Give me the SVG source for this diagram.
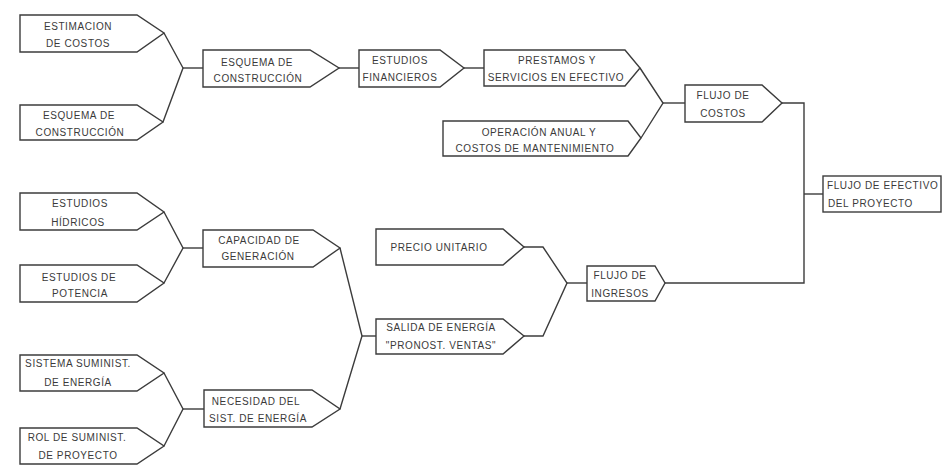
<svg xmlns="http://www.w3.org/2000/svg" width="944" height="468" viewBox="0 0 944 468">
  <style>
    .box { fill: #ffffff; stroke: #3c3c3c; stroke-width: 1.4; stroke-linejoin: miter; }
    .wire { fill: none; stroke: #3c3c3c; stroke-width: 1.4; stroke-linejoin: miter; }
    .lbl { font-family: "Liberation Sans", Arial, sans-serif; font-size: 10px; letter-spacing: 0.6px; fill: #3a3a3a; text-anchor: middle; }
    .lft { text-anchor: start; }
  </style>
  <rect x="0" y="0" width="944" height="468" fill="#ffffff"/>

  <!-- connectors -->
  <g id="connectors">
    <polyline class="wire" points="164,33 183,68 163,122"/>
    <line class="wire" x1="183" y1="68" x2="203" y2="68"/>
    <line class="wire" x1="339" y1="68" x2="359" y2="68"/>
    <line class="wire" x1="464" y1="68" x2="484" y2="68"/>
    <polyline class="wire" points="640,68 663,103 641,138"/>
    <line class="wire" x1="663" y1="103" x2="685" y2="103"/>
    <polyline class="wire" points="782,103 804,103 804,283 665,283"/>
    <line class="wire" x1="804" y1="194" x2="823" y2="194"/>

    <polyline class="wire" points="164,212 183,248 164,283"/>
    <line class="wire" x1="183" y1="248" x2="203" y2="248"/>
    <polyline class="wire" points="164,373 183,409 164,446"/>
    <line class="wire" x1="183" y1="409" x2="204" y2="409"/>
    <polyline class="wire" points="340,248 362,336 340,409"/>
    <line class="wire" x1="362" y1="336" x2="376" y2="336"/>
    <polyline class="wire" points="524,247 543,247 567,283 543,336 524,336"/>
    <line class="wire" x1="567" y1="283" x2="587" y2="283"/>
  </g>

  <g id="estimacion-costos">
    <polygon class="box" points="20,15 137,15 164,33 137,52 20,52"/>
    <text class="lbl" x="78" y="29.6">ESTIMACION</text>
    <text class="lbl" x="78" y="46.6">DE COSTOS</text>
  </g>
  <g id="esquema-construccion-base">
    <polygon class="box" points="20,105 137,105 163,122 137,140 20,140"/>
    <text class="lbl" x="79" y="118.6">ESQUEMA DE</text>
    <text class="lbl" x="80" y="135.6">CONSTRUCCIÓN</text>
  </g>
  <g id="esquema-construccion">
    <polygon class="box" points="203,50 310,50 339,68 310,87 203,87"/>
    <text class="lbl" x="257" y="65.6">ESQUEMA DE</text>
    <text class="lbl" x="258" y="81.6">CONSTRUCCIÓN</text>
  </g>
  <g id="estudios-financieros">
    <polygon class="box" points="359,50 440,50 464,68 440,87 359,87"/>
    <text class="lbl" x="400" y="63.6">ESTUDIOS</text>
    <text class="lbl" x="400" y="80.6">FINANCIEROS</text>
  </g>
  <g id="prestamos">
    <polygon class="box" points="484,50 625,50 640,68 625,86 484,86"/>
    <text class="lbl" x="557" y="63.6">PRESTAMOS Y</text>
    <text class="lbl" x="556" y="80.6">SERVICIOS EN EFECTIVO</text>
  </g>
  <g id="operacion-anual">
    <polygon class="box" points="443,121 628,121 641,138 628,156 443,156"/>
    <text class="lbl" x="539" y="135.6">OPERACIÓN ANUAL Y</text>
    <text class="lbl" x="535" y="151.6">COSTOS DE MANTENIMIENTO</text>
  </g>
  <g id="flujo-costos">
    <polygon class="box" points="685,85 762,85 782,103 762,122 685,122"/>
    <text class="lbl" x="723" y="98.6">FLUJO DE</text>
    <text class="lbl" x="723" y="116.6">COSTOS</text>
  </g>
  <g id="flujo-efectivo-proyecto">
    <rect class="box" x="823" y="176" width="118" height="36"/>
    <text class="lbl lft" x="827" y="188.6">FLUJO DE EFECTIVO</text>
    <text class="lbl lft" x="828" y="206.6">DEL PROYECTO</text>
  </g>

  <g id="estudios-hidricos">
    <polygon class="box" points="20,193 137,193 164,212 137,230 20,230"/>
    <text class="lbl" x="80" y="206.6">ESTUDIOS</text>
    <text class="lbl" x="78" y="225.6">HÍDRICOS</text>
  </g>
  <g id="estudios-potencia">
    <polygon class="box" points="20,265 137,265 164,283 137,302 20,302"/>
    <text class="lbl" x="79" y="280.6">ESTUDIOS DE</text>
    <text class="lbl" x="80" y="296.6">POTENCIA</text>
  </g>
  <g id="capacidad-generacion">
    <polygon class="box" points="203,230 313,230 340,248 313,267 203,267"/>
    <text class="lbl" x="259" y="243.6">CAPACIDAD DE</text>
    <text class="lbl" x="258" y="259.6">GENERACIÓN</text>
  </g>
  <g id="sistema-suministro">
    <polygon class="box" points="20,355 137,355 164,373 137,391 20,391"/>
    <text class="lbl" x="78" y="366.6">SISTEMA SUMINIST.</text>
    <text class="lbl" x="78" y="385.6">DE ENERGÍA</text>
  </g>
  <g id="rol-suministro">
    <polygon class="box" points="20,428 137,428 164,446 137,464 20,464"/>
    <text class="lbl" x="77" y="440.6">ROL DE SUMINIST.</text>
    <text class="lbl" x="78" y="458.6">DE PROYECTO</text>
  </g>
  <g id="necesidad-sistema">
    <polygon class="box" points="204,390 312,390 340,409 312,427 204,427"/>
    <text class="lbl" x="256" y="404.6">NECESIDAD DEL</text>
    <text class="lbl" x="258" y="421.6">SIST. DE ENERGÍA</text>
  </g>
  <g id="precio-unitario">
    <polygon class="box" points="376,229 503,229 524,247 503,265 376,265"/>
    <text class="lbl" x="439" y="250.6">PRECIO UNITARIO</text>
  </g>
  <g id="salida-energia">
    <polygon class="box" points="376,319 503,319 524,336 503,354 376,354"/>
    <text class="lbl" x="441" y="330.6">SALIDA DE ENERGÍA</text>
    <text class="lbl" x="441" y="348.6">"PRONOST. VENTAS"</text>
  </g>
  <g id="flujo-ingresos">
    <polygon class="box" points="587,266 655,266 665,283 655,301 587,301"/>
    <text class="lbl" x="620" y="278.6">FLUJO DE</text>
    <text class="lbl" x="620" y="296.6">INGRESOS</text>
  </g>
</svg>
